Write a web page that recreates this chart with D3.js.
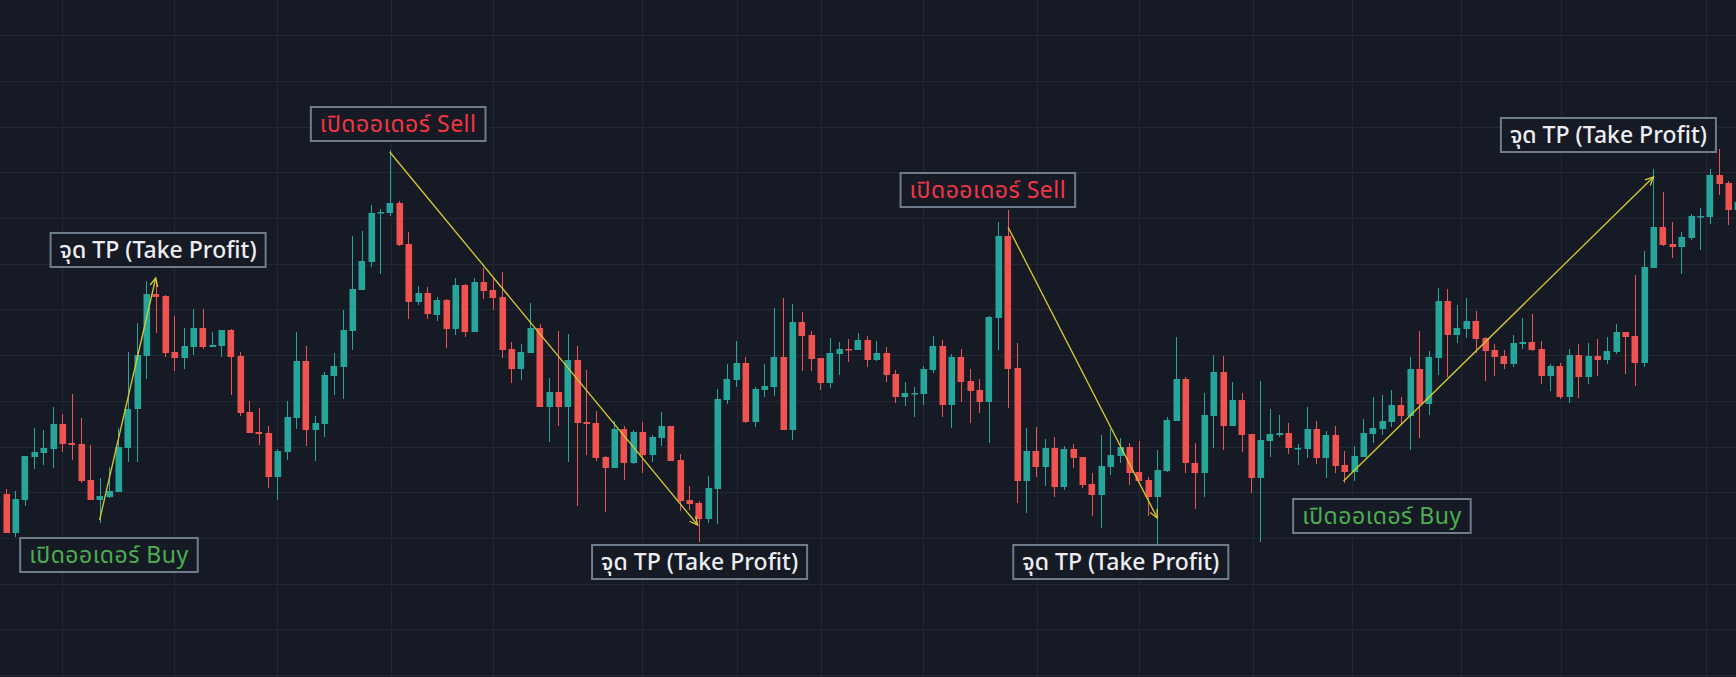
<!DOCTYPE html>
<html>
<head>
<meta charset="utf-8">
<script src="https://cdnjs.cloudflare.com/ajax/libs/d3/7.8.5/d3.min.js"></script>
<style>
  html, body { margin: 0; padding: 0; background: #161a25; overflow: hidden; }
  svg { display: block; }
</style>
</head>
<body>
<svg id="chart"></svg>
<script>
const width = 1736;
const height = 677;

// OHLC per bar, oldest first
const opens = [200,206,167,200,243,247,251,276,257,256,220,200,203,208,252,291,344,406,404,348,342,353,372,353,354,370,344,288,268,267,223,248,282,339,270,276,324,333,369,410,438,487,487,497,456,398,407,385,400,371,415,368,418,410,403,351,331,347,372,293,308,293,340,278,277,243,232,271,237,268,245,262,274,240,200,197,181,211,300,320,337,278,310,313,343,270,378,365,342,317,346,351,350,360,340,347,326,303,306,306,330,354,295,343,319,310,298,382,464,332,219,249,233,252,213,251,243,216,205,233,244,253,228,220,203,229,279,321,237,227,284,328,274,300,266,222,259,265,267,251,251,271,242,265,235,228,243,266,271,278,295,284,331,296,342,399,365,371,379,362,350,344,336,356,358,351,324,334,303,345,323,344,340,348,368,364,337,432,473,456,453,462,483,483,525,517,490];
const highs = [207,211,209,244,272,270,293,286,306,282,255,222,233,272,348,377,419,420,405,384,372,391,391,368,370,371,348,299,292,274,251,299,368,354,284,328,347,390,464,469,495,491,550,499,468,414,413,403,401,422,416,422,432,423,428,358,356,397,376,322,369,366,354,330,289,244,279,274,270,278,265,288,274,246,214,199,224,311,336,359,343,313,336,392,402,396,388,369,342,362,358,361,367,364,359,353,330,318,313,334,364,360,346,351,331,321,384,478,490,357,272,273,261,263,254,256,243,227,265,271,262,257,259,223,250,283,363,323,257,307,345,344,318,307,266,319,291,285,277,256,293,279,269,274,249,254,281,303,305,310,303,343,369,349,412,411,395,402,389,363,356,350,365,382,386,359,336,337,351,356,357,361,363,376,368,425,449,531,508,478,468,486,492,531,551,519,505];
const lows = [195,167,163,194,231,235,232,248,240,217,200,177,202,208,238,238,321,367,343,329,331,345,351,353,343,305,284,267,255,212,200,240,271,254,239,263,305,301,350,410,433,426,484,454,381,395,381,379,352,365,363,368,401,390,342,317,320,347,293,258,274,238,194,245,239,188,232,220,236,227,238,254,239,189,190,158,177,176,296,313,277,273,303,304,270,260,329,329,310,312,325,338,350,333,339,318,297,294,283,295,327,283,272,298,277,287,257,350,292,197,187,223,214,203,210,232,212,184,172,225,237,215,219,184,154,228,279,227,191,203,252,250,274,248,207,158,243,263,246,235,242,236,222,227,217,219,243,257,265,273,276,250,262,285,325,323,357,362,347,319,324,331,333,351,349,316,309,301,297,302,316,324,336,346,326,314,333,432,454,442,426,460,450,476,505,475,485];
const closes = [204,167,201,244,248,252,276,256,255,219,200,204,209,253,291,345,406,403,347,342,354,372,353,355,370,343,287,267,266,223,249,283,339,270,277,325,334,370,411,439,487,488,497,455,398,407,386,400,371,415,368,418,409,402,350,331,348,372,293,308,293,340,277,276,242,232,271,237,268,245,263,274,239,199,196,181,212,301,321,337,278,311,314,343,270,378,364,341,317,347,351,350,360,340,347,325,303,307,307,331,354,295,343,318,309,298,383,464,331,219,249,233,252,213,251,242,215,205,234,245,253,227,219,203,230,280,321,237,227,285,328,274,300,265,222,260,266,267,252,252,271,242,265,234,228,244,267,272,279,295,284,331,296,343,399,365,372,379,361,349,343,336,357,358,350,324,334,303,345,323,344,340,349,368,363,337,433,473,455,453,463,484,484,525,516,490,498];

// order annotations: [bar index, price]
const arrows = [
  { from: [11, 180], to: [17, 422] },
  { from: [42, 548], to: [74.9, 175] },
  { from: [108.05, 473], to: [124, 182] },
  { from: [143.9, 219], to: [177, 523] }
];
const labels = [
  { text: "จุด TP (Take Profit)", kind: "tp", at: [17.25, 450] },
  { text: "เปิดออเดอร์ Buy", kind: "buy", at: [12, 145] },
  { text: "เปิดออเดอร์ Sell", kind: "sell", at: [42.9, 576] },
  { text: "จุด TP (Take Profit)", kind: "tp", at: [75.1, 138] },
  { text: "เปิดออเดอร์ Sell", kind: "sell", at: [105.9, 510] },
  { text: "จุด TP (Take Profit)", kind: "tp", at: [120.1, 138] },
  { text: "เปิดออเดอร์ Buy", kind: "buy", at: [148, 184] },
  { text: "จุด TP (Take Profit)", kind: "tp", at: [172.2, 565] }
];
const timeGrid = [7, 18.95, 29.95, 42.1, 53, 68.9, 79.1, 88.1, 99, 111.2, 122, 134.2, 144.8, 156.4, 167.1, 182.6];
const priceGrid = d3.range(25, 700, 45.7);

const labelColor = { tp: "#eceef1", buy: "#4caf50", sell: "#f23645" };

const bars = opens.map((o, i) => ({ i, o, h: highs[i], l: lows[i], c: closes[i] }));

const x = d3.scaleLinear().domain([1, 185]).range([6, 6 + 9.36 * 184]);
const y = d3.scaleLinear().domain([0, 700]).range([700, 0]);

const svg = d3.select("#chart")
  .attr("width", width)
  .attr("height", height)
  .attr("viewBox", [0, 0, width, height]);

svg.append("rect").attr("width", width).attr("height", height).attr("fill", "#161a25");

const grid = svg.append("g").attr("stroke", "#232733").attr("stroke-width", 1);
grid.selectAll("line.h").data(priceGrid).join("line")
  .attr("class", "h")
  .attr("x1", 0).attr("x2", width)
  .attr("y1", d => Math.round(y(d)) + 0.5).attr("y2", d => Math.round(y(d)) + 0.5);
grid.selectAll("line.v").data(timeGrid).join("line")
  .attr("class", "v")
  .attr("y1", 0).attr("y2", height)
  .attr("x1", d => Math.round(x(d)) + 0.5).attr("x2", d => Math.round(x(d)) + 0.5);

const up = "#26a69a", down = "#ef5350";
const bw = 6.6;

const candle = svg.append("g").selectAll("g").data(bars).join("g")
  .attr("fill", d => d.c >= d.o ? up : down)
  .attr("stroke", d => d.c >= d.o ? up : down);

candle.append("line")
  .attr("x1", d => Math.round(x(d.i)) + 0.5).attr("x2", d => Math.round(x(d.i)) + 0.5)
  .attr("y1", d => y(d.h)).attr("y2", d => y(d.l))
  .attr("stroke-width", 1);

candle.append("rect")
  .attr("stroke", "none")
  .attr("x", d => Math.round(x(d.i) - bw / 2) + 0.5)
  .attr("width", bw)
  .attr("y", d => y(Math.max(d.o, d.c)))
  .attr("height", d => Math.max(1.5, Math.abs(y(d.o) - y(d.c))));

// arrows
const ann = svg.append("g").attr("stroke", "#d7cc2f").attr("stroke-width", 1.3).attr("fill", "none");
arrows.forEach(a => {
  const x1 = x(a.from[0]), y1 = y(a.from[1]), x2 = x(a.to[0]), y2 = y(a.to[1]);
  ann.append("line").attr("x1", x1).attr("y1", y1).attr("x2", x2).attr("y2", y2);
  const ang = Math.atan2(y2 - y1, x2 - x1);
  const len = 9, spread = 0.45;
  ann.append("path").attr("d",
    `M${x2 - len * Math.cos(ang - spread)},${y2 - len * Math.sin(ang - spread)}L${x2},${y2}L${x2 - len * Math.cos(ang + spread)},${y2 - len * Math.sin(ang + spread)}`);
});

// label boxes
const lab = svg.append("g").selectAll("g").data(labels).join("g")
  .attr("transform", d => `translate(${x(d.at[0])},${y(d.at[1])})`);
const rects = lab.append("rect")
  .attr("fill", "#161a25").attr("stroke", "#6f7c8b").attr("stroke-width", 2);
lab.append("text")
  .attr("text-anchor", "middle").attr("dy", "0.36em")
  .attr("font-family", "'Noto Sans Thai', 'Noto Sans', 'Open Sans', sans-serif")
  .attr("font-size", 23)
  .attr("font-weight", d => d.kind === "tp" ? 500 : 400)
  .attr("letter-spacing", d => d.kind === "tp" ? 0 : 0.5)
  .attr("fill", d => labelColor[d.kind])
  .text(d => d.text)
  .each(function (d) { d.w = this.getComputedTextLength(); });
rects.attr("x", d => -d.w / 2 - 9).attr("width", d => d.w + 18)
  .attr("y", -17).attr("height", 34);
</script>
</body>
</html>
